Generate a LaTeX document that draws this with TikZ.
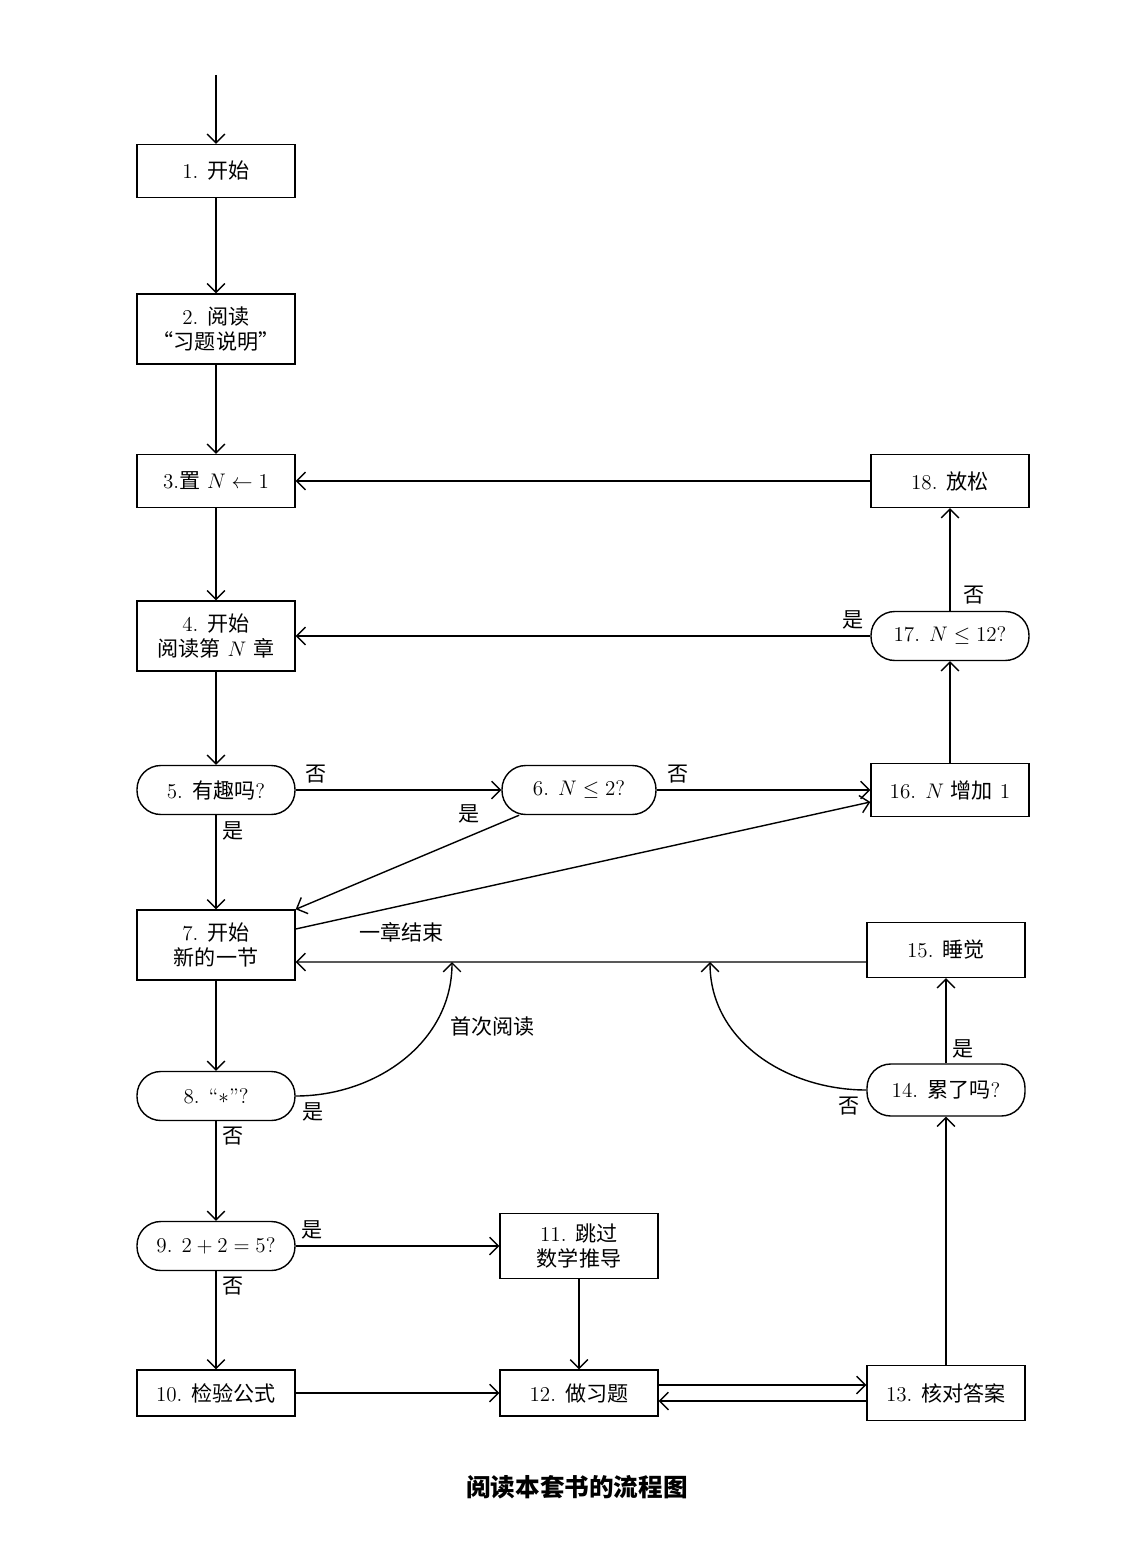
\documentclass[tikz,border=0pt]{standalone}
\usepackage{fontspec}
\newfontfamily\cjk{Noto Sans CJK SC}
\newcommand{\zh}[1]{{\cjk #1}}
\usetikzlibrary{arrows.meta}
\begin{document}
\begin{tikzpicture}[x=0.02cm, y=-0.02cm,
font=\fontsize{12}{14}\selectfont,
>={Straight Barb[length=5pt,width=10pt]},
box/.style={draw, line width=.8pt, minimum width=3.16cm, minimum height=1.06cm, align=center},
test/.style={box, rounded corners=13.5pt, minimum height=0.98cm},
arr/.style={line width=.8pt}]
\useasboundingbox (0,0) rectangle (1121,1547);
% left column
\node[box] (s1) at (216,171) {1. \zh{开始}};
\node[box, minimum height=1.4cm] (s2) at (216,329) {2. \zh{阅读}\\\zh{“习题说明”}};
\node[box] (s3) at (216,481) {3.\zh{置} $N\leftarrow1$};
\node[box, minimum height=1.4cm] (s4) at (216,636) {4. \zh{开始}\\\zh{阅读第} $N$ \zh{章}};
\node[test] (s5) at (216,790) {5. \zh{有趣吗}?};
\node[box, minimum height=1.4cm] (s7) at (216,945) {7. \zh{开始}\\\zh{新的一节}};
\node[test] (s8) at (216,1096) {8. ``$*$''?};
\node[test] (s9) at (216,1246) {9. $2+2=5$?};
\node[box, minimum height=0.92cm] (s10) at (216,1393) {10. \zh{检验公式}};
% middle column
\node[test, minimum width=3.08cm] (s6) at (579,790) {6. $N\le2$?};
\node[box, minimum height=1.3cm] (s11) at (579,1246) {11. \zh{跳过}\\\zh{数学推导}};
\node[box, minimum height=0.92cm] (s12) at (579,1393) {12. \zh{做习题}};
% right column
\node[box] (s18) at (950,481) {18. \zh{放松}};
\node[test] (s17) at (950,636) {17. $N\le12$?};
\node[box] (s16) at (950,790) {16. $N$ \zh{增加} 1};
\node[box, minimum height=1.1cm] (s15) at (946,950) {15. \zh{睡觉}};
\node[test, minimum height=1.04cm] (s14) at (946,1090) {14. \zh{累了吗}?};
\node[box, minimum height=1.1cm] (s13) at (946,1393) {13. \zh{核对答案}};
\node[font=\fontsize{14}{16}\selectfont\bfseries] (cap) at (577,1487) {\zh{阅读本套书的流程图}};
%
\coordinate (top) at (216,75);
\coordinate (a) at (452,962);
\coordinate (b) at (710,962);
%
\draw[->, arr] (top) -- (s1);
\draw[->, arr] (s1) -- (s2);
\draw[->, arr] (s2) -- (s3);
\draw[->, arr] (s3) -- (s4);
\draw[->, arr] (s4) -- (s5);
\draw[->, arr] (s5) -- node[above, pos=0.1] {\zh{否}} (s6);
\draw[->, arr] (s5) -- node[right, pos=0.17] {\zh{是}} (s7);
\draw[->, arr] (s6) -- node[above, pos=0.1] {\zh{否}} (s16);
\draw[->, arr] (s6) -- node[above left, pos=0.15] {\zh{是}} (s7.north east);
\draw[->, arr] ([yshift=.32cm]s7.east) -- node[below right, pos=0.1] {\zh{一章结束}}
                        ([yshift=-.24cm]s16.west);
\draw[->, arr] (s16) -- (s17);
\draw[->, arr] (s17) -- node[above, pos=0.03] {\zh{是}} (s4);
\draw[->, arr] (s17) -- node[right, pos=0.15, xshift=4pt] {\zh{否}} (s18);
\draw[->, arr] (s18) -- (s3);
\draw[->, arr] ([yshift=-.24cm]s15.west) -- (s7.east |- a);
\draw[->, arr] (s7) -- (s8);
\draw[->, arr] (s8) to[out=0, in=-90] node[below right, pos=0] {\zh{是}}
                        node[right, pos=0.7, xshift=6pt] {\zh{首次阅读}} (a);
\draw[->, arr] (s14) to[out=180, in=-90] node[below left, pos=0] {\zh{否}} (b);
\draw[->, arr] (s14) -- node[right, pos=0.17] {\zh{是}} (s15);
\draw[->, arr] (s8) -- node[right, pos=0.15] {\zh{否}} (s9);
\draw[->, arr] (s9) -- node[above, pos=0.08] {\zh{是}} (s11);
\draw[->, arr] (s9) -- node[right, pos=0.15] {\zh{否}} (s10);
\draw[->, arr] (s11) -- (s12);
\draw[->, arr] (s10) -- (s12);
\draw[->, arr] ([yshift=.16cm]s12.east) -- ([yshift=.16cm]s13.west);
\draw[->, arr] ([yshift=-.16cm]s13.west) -- ([yshift=-.16cm]s12.east);
\draw[->, arr] (s13) -- (s14);
\end{tikzpicture}
\end{document}
